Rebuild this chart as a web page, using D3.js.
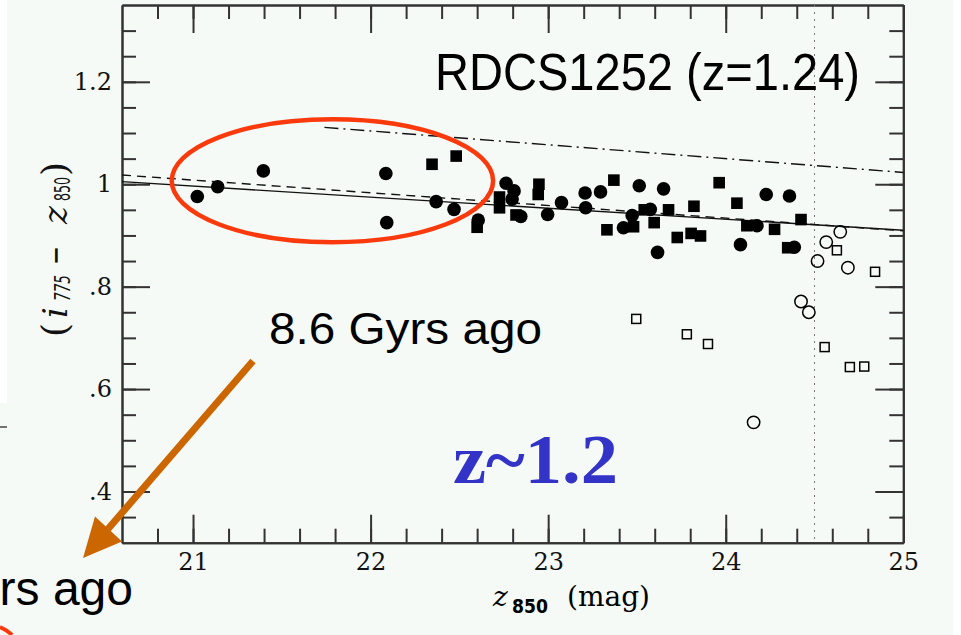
<!DOCTYPE html>
<html>
<head>
<meta charset="utf-8">
<script src="https://cdn.jsdelivr.net/npm/d3@7"></script>
<style>
  html, body { margin: 0; padding: 0; background: #f5faf7; }
  svg { display: block; }
</style>
</head>
<body>
<svg id="chart" width="961" height="635"></svg>
<script>
// Colour–magnitude diagram of RDCS1252 (z = 1.24): [z850 mag, i775 − z850 colour]
const earlyTypeCircles = [
  [21.024, 0.976], [21.139, 0.995], [21.396, 1.026], [22.086, 1.021], [22.091, 0.925],
  [22.369, 0.966], [22.470, 0.951], [22.606, 0.930], [22.763, 1.002], [22.808, 0.987],
  [22.797, 0.971], [22.846, 0.937], [22.997, 0.941], [23.075, 0.964], [23.208, 0.983],
  [23.295, 0.985], [23.211, 0.954], [23.513, 0.997], [23.650, 0.991], [23.473, 0.939],
  [23.424, 0.915], [23.575, 0.951], [23.616, 0.867], [24.176, 0.919], [24.083, 0.882],
  [24.228, 0.980], [24.359, 0.977], [24.386, 0.877]
];
const earlyTypeSquares = [
  [22.346, 1.039], [22.482, 1.055], [22.600, 0.916], [22.726, 0.975], [22.726, 0.954],
  [22.948, 1.000], [22.944, 0.980], [22.819, 0.940], [23.370, 1.008], [23.331, 0.911],
  [23.481, 0.917], [23.541, 0.950], [23.597, 0.925], [23.678, 0.950], [23.727, 0.896],
  [23.805, 0.904], [23.858, 0.899], [23.821, 0.957], [23.963, 1.003], [24.063, 0.963],
  [24.119, 0.919], [24.275, 0.912], [24.424, 0.931], [24.349, 0.876]
];
const faintCircles = [
  [24.645, 0.907], [24.566, 0.887], [24.517, 0.850], [24.688, 0.837],
  [24.424, 0.771], [24.468, 0.750], [24.157, 0.535]
];
const faintSquares = [
  [23.496, 0.737], [23.781, 0.707], [23.900, 0.688], [24.626, 0.871],
  [24.841, 0.829], [24.557, 0.682], [24.699, 0.643], [24.780, 0.644]
];

// Fitted red sequence and model relations (endpoints in mag / colour)
const redSequenceFit = [[20.6, 1.005], [25.0, 0.910]];
const modelDashed    = [[20.6, 1.018], [25.0, 0.909]];
const modelDashDot   = [[21.74, 1.111], [25.0, 1.023]];
const completenessLimit = 24.5;

// Highlighted bright galaxies: centre and semi-axes in data units
const brightRegion = { mag: 21.785, color: 1.0067, magRadius: 0.905, colorRadius: 0.12 };

// Axes
const xDomain = [20.6, 25];
const yDomain = [0.3, 1.35];
const xMajorTicks = [21, 22, 23, 24, 25];
const xTickLabels = ["21", "22", "23", "24", "25"];
const xMinorTicks = d3.range(20.8, 25.0, 0.2).map(v => +v.toFixed(1));
const yMajorTicks = [0.4, 0.6, 0.8, 1.0, 1.2];
const yTickLabels = [".4", ".6", ".8", "1", "1.2"];
const yMinorTicks = d3.range(0.35, 1.34, 0.05).map(v => +v.toFixed(2));

const svg = d3.select("#chart");
const W = 961, H = 635;
const plot = { left: 122, right: 903.3, top: 5, bottom: 542.7 };

const x = d3.scaleLinear().domain(xDomain).range([plot.left, plot.right]);
const y = d3.scaleLinear().domain(yDomain).range([plot.bottom, plot.top]);

// page background and slide edges
svg.append("rect").attr("width", W).attr("height", H).attr("fill", "#f5faf7");
svg.append("rect").attr("x", 0).attr("y", 0).attr("width", 7).attr("height", 403).attr("fill", "#ffffff");
svg.append("rect").attr("x", 953).attr("y", 0).attr("width", 8).attr("height", H).attr("fill", "#ffffff");
svg.append("line").attr("x1", 0).attr("x2", 7).attr("y1", 427).attr("y2", 427)
  .attr("stroke", "#444").attr("stroke-width", 1.5);

const axisColor = "#333";
const MAJOR = 28, MINOR = 14;

function styleAxis(g) {
  g.selectAll("path.domain").attr("stroke", axisColor).attr("stroke-width", 2);
  g.selectAll(".tick line").attr("stroke", axisColor).attr("stroke-width", 2);
  g.selectAll(".tick text")
    .attr("font-family", "'DejaVu Serif', serif")
    .attr("font-size", 24)
    .attr("fill", "#111");
}

// bottom axis
svg.append("g").attr("transform", `translate(0,${plot.bottom})`)
  .call(d3.axisBottom(x).tickValues(xMinorTicks).tickSize(-MINOR).tickSizeOuter(0).tickFormat(""))
  .call(styleAxis);
svg.append("g").attr("transform", `translate(0,${plot.bottom})`)
  .call(d3.axisBottom(x).tickValues(xMajorTicks).tickSize(-MAJOR).tickSizeOuter(0).tickPadding(10)
    .tickFormat((d, i) => xTickLabels[i]))
  .call(styleAxis);

// top axis
svg.append("g").attr("transform", `translate(0,${plot.top})`)
  .call(d3.axisTop(x).tickValues(xMinorTicks).tickSize(-MINOR).tickSizeOuter(0).tickFormat(""))
  .call(styleAxis);
svg.append("g").attr("transform", `translate(0,${plot.top})`)
  .call(d3.axisTop(x).tickValues(xMajorTicks).tickSize(-MAJOR).tickSizeOuter(0).tickFormat(""))
  .call(styleAxis);

// left axis
svg.append("g").attr("transform", `translate(${plot.left},0)`)
  .call(d3.axisLeft(y).tickValues(yMinorTicks).tickSize(-MINOR).tickSizeOuter(0).tickFormat(""))
  .call(styleAxis);
svg.append("g").attr("transform", `translate(${plot.left},0)`)
  .call(d3.axisLeft(y).tickValues(yMajorTicks).tickSize(-MAJOR).tickSizeOuter(0).tickPadding(10)
    .tickFormat((d, i) => yTickLabels[i]))
  .call(styleAxis);

// right axis
svg.append("g").attr("transform", `translate(${plot.right},0)`)
  .call(d3.axisRight(y).tickValues(yMinorTicks).tickSize(-MINOR).tickSizeOuter(0).tickFormat(""))
  .call(styleAxis);
svg.append("g").attr("transform", `translate(${plot.right},0)`)
  .call(d3.axisRight(y).tickValues(yMajorTicks).tickSize(-MAJOR).tickSizeOuter(0).tickFormat(""))
  .call(styleAxis);

// relations
const line = d3.line().x(d => x(d[0])).y(d => y(d[1]));
svg.append("path").datum(redSequenceFit).attr("d", line)
  .attr("fill", "none").attr("stroke", "#111").attr("stroke-width", 1.4);
svg.append("path").datum(modelDashed).attr("d", line)
  .attr("fill", "none").attr("stroke", "#111").attr("stroke-width", 1.4)
  .attr("stroke-dasharray", "9,6");
svg.append("path").datum(modelDashDot).attr("d", line)
  .attr("fill", "none").attr("stroke", "#111").attr("stroke-width", 1.4)
  .attr("stroke-dasharray", "14,5,2,5");
svg.append("line")
  .attr("x1", x(completenessLimit)).attr("x2", x(completenessLimit))
  .attr("y1", plot.top).attr("y2", plot.bottom)
  .attr("stroke", "#777").attr("stroke-width", 1).attr("stroke-dasharray", "2,5");

// points
const pts = svg.append("g");
pts.selectAll("circle.ec").data(earlyTypeCircles).join("circle")
  .attr("cx", d => x(d[0])).attr("cy", d => y(d[1])).attr("r", 6.8).attr("fill", "#000");
pts.selectAll("rect.es").data(earlyTypeSquares).join("rect")
  .attr("x", d => x(d[0]) - 5.8).attr("y", d => y(d[1]) - 5.8)
  .attr("width", 11.6).attr("height", 11.6).attr("fill", "#000");
pts.selectAll("circle.fc").data(faintCircles).join("circle")
  .attr("cx", d => x(d[0])).attr("cy", d => y(d[1])).attr("r", 6.2)
  .attr("fill", "none").attr("stroke", "#000").attr("stroke-width", 1.5);
pts.selectAll("rect.fs").data(faintSquares).join("rect")
  .attr("x", d => x(d[0]) - 4.5).attr("y", d => y(d[1]) - 4.5)
  .attr("width", 9).attr("height", 9)
  .attr("fill", "none").attr("stroke", "#000").attr("stroke-width", 1.5);

// highlighted region
svg.append("ellipse")
  .attr("cx", x(brightRegion.mag)).attr("cy", y(brightRegion.color))
  .attr("rx", x(brightRegion.mag + brightRegion.magRadius) - x(brightRegion.mag))
  .attr("ry", y(brightRegion.color) - y(brightRegion.color + brightRegion.colorRadius))
  .attr("fill", "none").attr("stroke", "#fa3a0c").attr("stroke-width", 4.5);

// axis titles
const xt = svg.append("g");
xt.append("text").attr("x", 493).attr("y", 606)
  .attr("font-family", "'DejaVu Serif', serif").attr("font-style", "italic").attr("font-size", 28)
  .text("z");
xt.append("text").attr("x", 512).attr("y", 613)
  .attr("font-family", "'DejaVu Sans', sans-serif").attr("font-weight", "bold").attr("font-size", 19)
  .attr("textLength", 36).attr("lengthAdjust", "spacingAndGlyphs").text("850");
xt.append("text").attr("x", 567).attr("y", 606)
  .attr("font-family", "'DejaVu Serif', serif").attr("font-size", 27)
  .attr("textLength", 83).attr("lengthAdjust", "spacingAndGlyphs").text("(mag)");

const yt = svg.append("g").attr("transform", "translate(67,337) rotate(-90)")
  .attr("font-family", "'DejaVu Serif', serif").attr("fill", "#111");
yt.append("text").attr("x", 0).attr("font-size", 36).text("(");
yt.append("text").attr("x", 19).attr("font-size", 34).attr("font-style", "italic").text("i");
yt.append("text").attr("x", 36).attr("y", 3).attr("font-family", "'DejaVu Sans', sans-serif")
  .attr("font-size", 21).attr("font-style", "italic")
  .attr("textLength", 26).attr("lengthAdjust", "spacingAndGlyphs").text("775");
yt.append("text").attr("x", 72).attr("font-size", 34)
  .attr("textLength", 19).attr("lengthAdjust", "spacingAndGlyphs").text("−");
yt.append("text").attr("x", 113).attr("font-size", 34).attr("font-style", "italic").text("z");
yt.append("text").attr("x", 136).attr("y", 3).attr("font-family", "'DejaVu Sans', sans-serif")
  .attr("font-size", 21).attr("textLength", 24).attr("lengthAdjust", "spacingAndGlyphs").text("850");
yt.append("text").attr("x", 161).attr("font-size", 36).text(")");

// annotations
svg.append("text").attr("x", 435).attr("y", 90)
  .attr("font-family", "'Liberation Sans', Arial, sans-serif").attr("font-size", 52)
  .attr("textLength", 425).attr("lengthAdjust", "spacingAndGlyphs")
  .attr("fill", "#000").text("RDCS1252 (z=1.24)");

svg.append("text").attr("x", 269).attr("y", 344)
  .attr("font-family", "'Liberation Sans', Arial, sans-serif").attr("font-size", 45)
  .attr("textLength", 273).attr("lengthAdjust", "spacingAndGlyphs")
  .attr("fill", "#000").text("8.6 Gyrs ago");

svg.append("text").attr("x", 453).attr("y", 483)
  .attr("font-family", "'Liberation Serif', 'Times New Roman', serif").attr("font-weight", "bold")
  .attr("font-size", 70).attr("textLength", 165).attr("lengthAdjust", "spacingAndGlyphs")
  .attr("fill", "#3333c8").text("z~1.2");

svg.append("text").attr("x", 133).attr("y", 605)
  .attr("text-anchor", "end")
  .attr("font-family", "'Liberation Sans', Arial, sans-serif").attr("font-size", 48)
  .attr("fill", "#000").text("Gyrs ago");

// arrow from the label towards the lower-left text
const arrowColor = "#cc6600";
svg.append("line").attr("x1", 253).attr("y1", 361).attr("x2", 108).attr("y2", 529)
  .attr("stroke", arrowColor).attr("stroke-width", 7);
svg.append("path").attr("d", "M83,558 L95,516.5 L122,541.5 Z").attr("fill", arrowColor);

// edge of another highlight at the lower-left corner
svg.append("path").attr("d", "M0,627 Q7,630 12,635")
  .attr("fill", "none").attr("stroke", "#fa3a0c").attr("stroke-width", 4);
</script>
</body>
</html>
